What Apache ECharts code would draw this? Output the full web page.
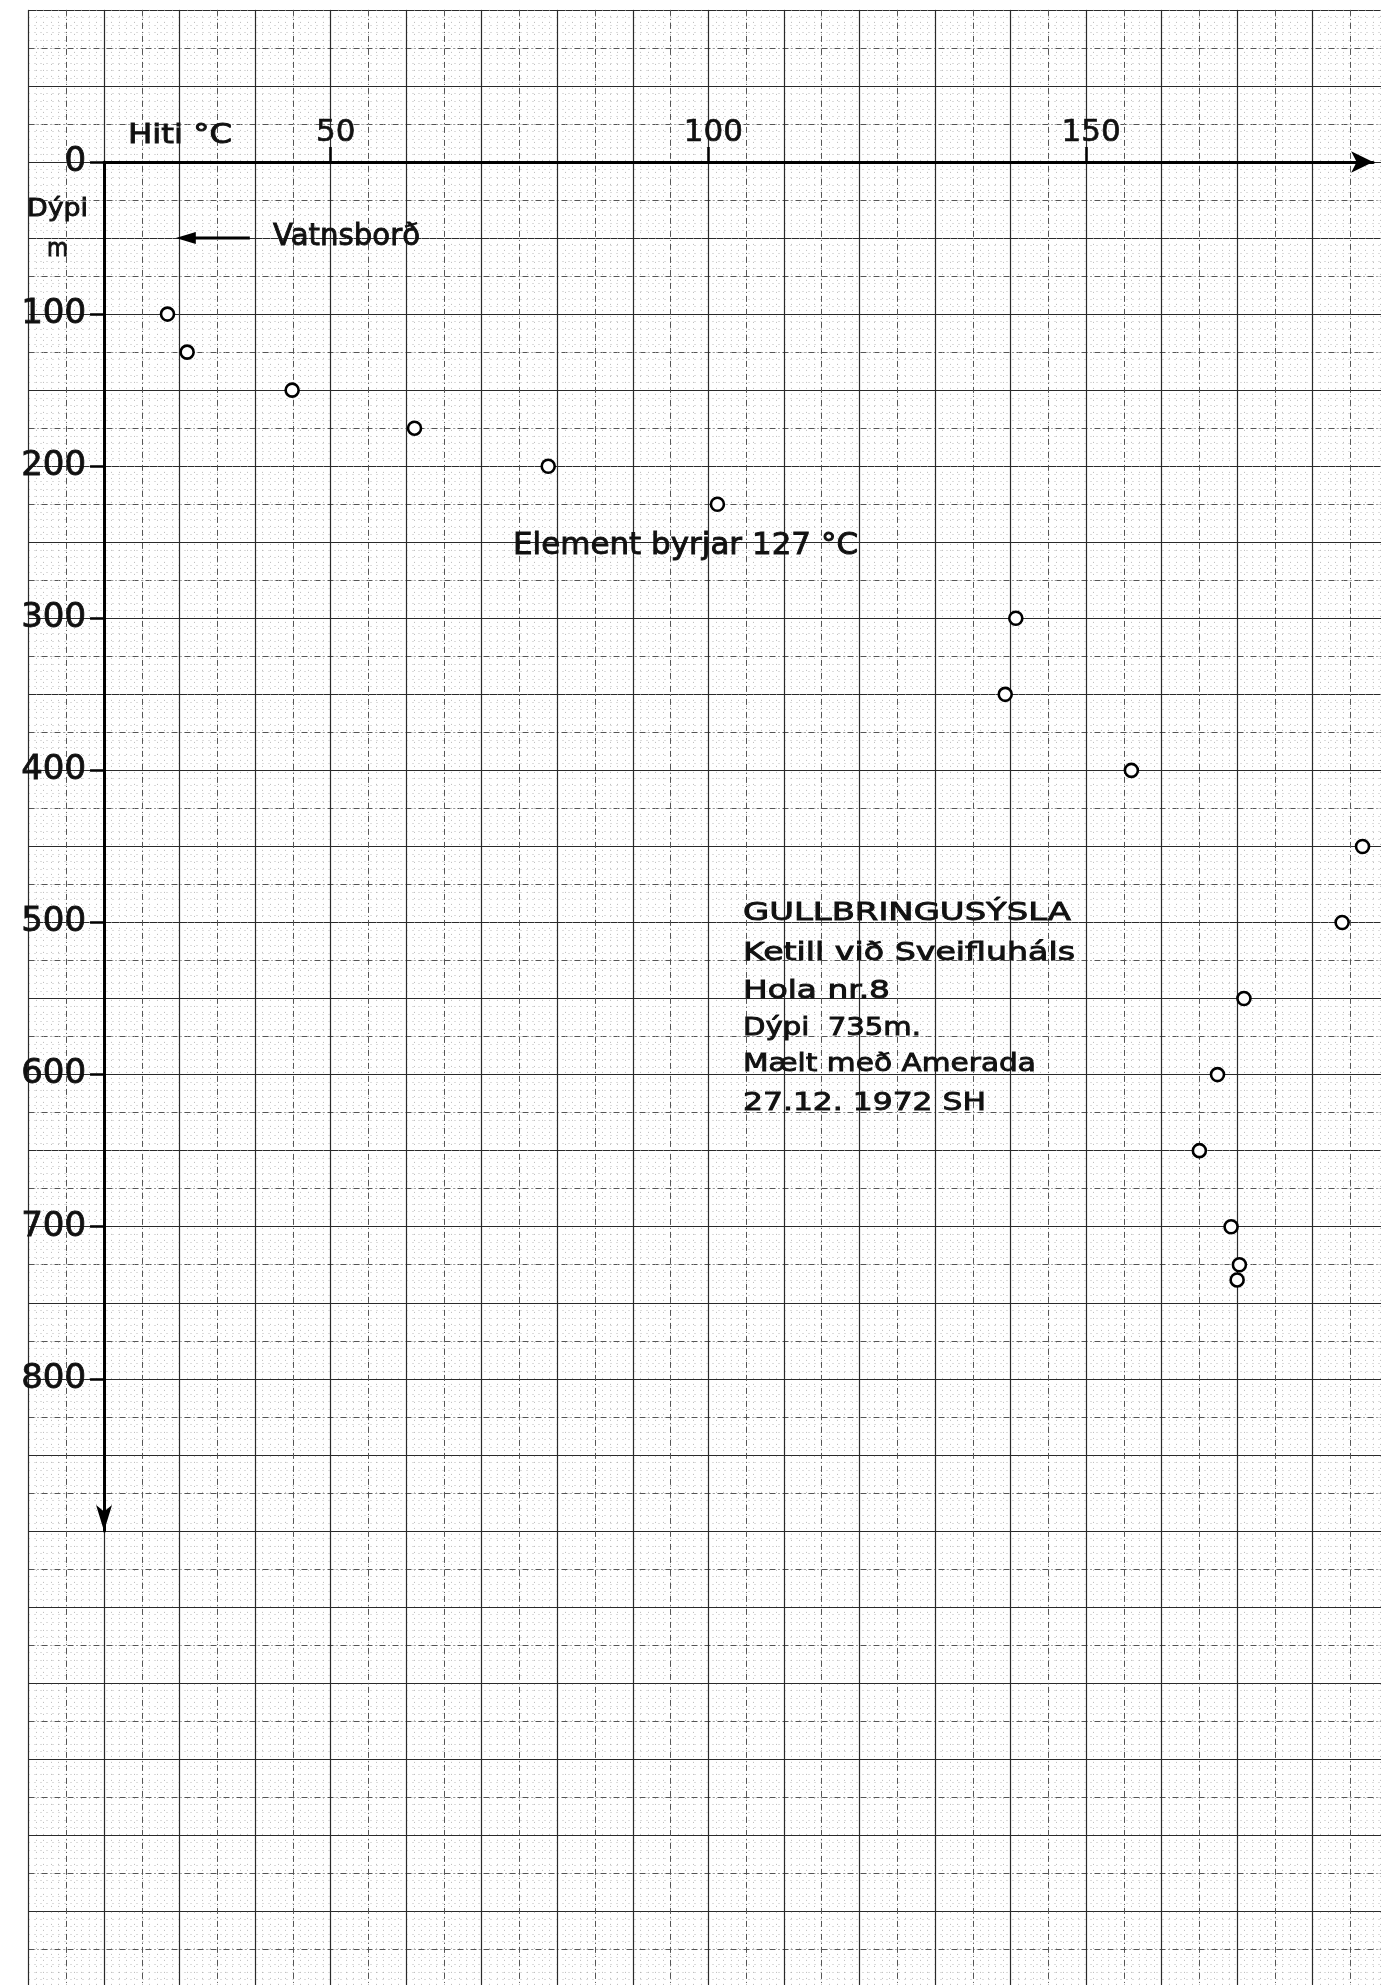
<!DOCTYPE html>
<html>
<head>
<meta charset="utf-8">
<script src="https://cdn.jsdelivr.net/npm/echarts@6/dist/echarts.min.js"></script>
<style>
html,body{margin:0;padding:0;background:#fff;}
#chart{width:1381px;height:1985px;}
</style>
</head>
<body>
<div id="chart"></div>
<script>
// ---- data ----
const depths = [100, 125, 150, 175, 200, 225, 300, 350, 400, 450, 500, 550, 600, 650, 700, 725, 735];
const temps  = [28.4, 31.0, 44.9, 61.1, 78.8, 101.2, 140.7, 139.3, 156.0, 186.6, 183.9, 170.9, 167.4, 165.0, 169.2, 170.3, 170.0];
const xTickValues = [50, 100, 150];
const yTickValues = [0, 100, 200, 300, 400, 500, 600, 700, 800];
const waterLevelDepth = 50;

const FONT = '"DejaVu Sans"';
const PX_PER_C = 7.554;   // horizontal scale of the paper
const PX_PER_M = 1.521;   // vertical scale of the paper

const chart = echarts.init(document.getElementById('chart'), null, {renderer: 'canvas'});

const mctx = document.createElement('canvas').getContext('2d');
function txt(str, left, baseline, cap, width) {
  const size = cap / 0.729;
  const font = size.toFixed(2) + 'px ' + FONT;
  mctx.font = font;
  const w = mctx.measureText(str).width;
  return {
    type: 'text', x: left, y: baseline - 0.346 * size, scaleX: width / w, z: 20,
    style: {text: str, font: font, fill: '#111', stroke: '#111', lineWidth: 0.9,
            align: 'left', verticalAlign: 'middle'}
  };
}

function paperAxis(grid, min, max, interval, style) {
  return {
    type: 'value', gridIndex: grid, min: min, max: max, interval: interval,
    axisLine: {show: false}, axisTick: {show: false}, axisLabel: {show: false},
    splitLine: {show: true, lineStyle: style}
  };
}
const minorStyle = {color: '#a8a8a8', width: 0.8, type: [1, 5]};
const midStyle   = {color: '#555', width: 1, type: [6, 3, 1, 3]};
const majorStyle = {color: '#2a2a2a', width: 1.2, type: 'solid'};

const xMin = 10, xMax = 190, yMin = -100, yMax = 1200;
const gLeft = 28.5, gTop = 9.9;

const option = {
  backgroundColor: '#fff',
  animation: false,
  grid: [
    {left: gLeft, top: gTop, width: (xMax - xMin) * PX_PER_C, height: (yMax - yMin) * PX_PER_M, outerBoundsMode: 'none'},
    {left: gLeft + (20 - xMin) * PX_PER_C, top: gTop + (0 - yMin) * PX_PER_M,
     width: (188 - 20) * PX_PER_C, height: 900 * PX_PER_M, outerBoundsMode: 'none'}
  ],
  xAxis: [
    paperAxis(0, xMin, xMax, 1, minorStyle),
    paperAxis(0, xMin, xMax, 5, midStyle),
    paperAxis(0, xMin, xMax, 10, majorStyle),
    {
      type: 'value', gridIndex: 1, position: 'top', min: 20, max: 188, interval: 10, z: 5,
      axisLine: {show: true, onZero: false, lineStyle: {color: '#000', width: 3},
                 symbol: ['none', 'arrow'], symbolSize: [16, 22]},
      axisTick: {show: true, customValues: xTickValues, length: 15, inside: false,
                 lineStyle: {color: '#000', width: 2.5}},
      axisLabel: {show: true, customValues: xTickValues, fontSize: 31, fontFamily: FONT,
                  color: '#111', textBorderColor: '#111', textBorderWidth: 0.7,
                  margin: 14, padding: [0, 0, 0, 10]},
      splitLine: {show: false}
    }
  ],
  yAxis: [
    Object.assign(paperAxis(0, yMin, yMax, 5, minorStyle), {inverse: true}),
    Object.assign(paperAxis(0, yMin, yMax, 25, midStyle), {inverse: true}),
    Object.assign(paperAxis(0, yMin, yMax, 50, majorStyle), {inverse: true}),
    {
      type: 'value', gridIndex: 1, position: 'left', inverse: true, min: 0, max: 900, interval: 100, z: 5,
      axisLine: {show: true, onZero: false, lineStyle: {color: '#000', width: 3},
                 symbol: ['arrow', 'none'], symbolSize: [12, 26]},
      axisTick: {show: true, customValues: yTickValues, length: 14, inside: false,
                 lineStyle: {color: '#000', width: 2.5}},
      axisLabel: {show: true, customValues: yTickValues, fontSize: 34, fontFamily: FONT,
                  color: '#111', textBorderColor: '#111', textBorderWidth: 0.8, margin: 18},
      splitLine: {show: false}
    }
  ],
  series: [{
    type: 'scatter', xAxisIndex: 3, yAxisIndex: 3, z: 10, clip: false,
    symbol: 'circle', symbolSize: 13,
    itemStyle: {color: '#fff', borderColor: '#000', borderWidth: 2.6, opacity: 1},
    data: depths.map((d, i) => [temps[i], d])
  }],
  graphic: []
};
chart.setOption(option);

// water level arrow, positioned through the chart's own scales
const pA = chart.convertToPixel({gridIndex: 1}, [39.3, waterLevelDepth]);
const pB = chart.convertToPixel({gridIndex: 1}, [29.5, waterLevelDepth]);

const blockLeft = 743;
const graphics = [
  txt('Hiti °C', 128, 145, 19, 104),
  txt('Dýpi', 27, 218, 18.3, 61),
  txt('m', 47, 258, 18.3, 21),
  txt('Vatnsborð', 273, 248, 21.7, 147),
  txt('Element byrjar 127 °C', 513, 556.7, 21.7, 345),
  txt('GULLBRINGUSÝSLA', blockLeft, 921.7, 18.3, 328),
  txt('Ketill við Sveifluháls', blockLeft, 961.7, 18.3, 332),
  txt('Hola nr.8', blockLeft, 1000, 18.3, 147),
  txt('Dýpi  735m.', blockLeft, 1036.7, 18.3, 178),
  txt('Mælt með Amerada', blockLeft, 1073, 18.3, 293),
  txt('27.12. 1972 SH', blockLeft, 1111.7, 18.3, 243),
  {type: 'line', z: 20, shape: {x1: pA[0], y1: pA[1], x2: pB[0] + 18, y2: pB[1]},
   style: {stroke: '#000', lineWidth: 3}},
  {type: 'polygon', z: 20, shape: {points: [[pB[0], pB[1]], [pB[0] + 20, pB[1] - 6], [pB[0] + 20, pB[1] + 6]]},
   style: {fill: '#000'}}
];
chart.setOption({graphic: graphics});
</script>
</body>
</html>
